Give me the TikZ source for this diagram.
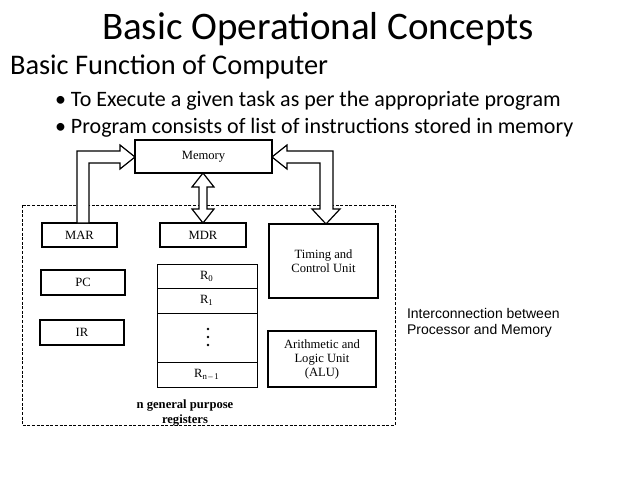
\documentclass[tikz,border=0pt]{standalone}
\usepackage{fontspec}
\setmainfont{Liberation Serif}
\newfontfamily\calfont{Carlito}
\newfontfamily\arialfont{Liberation Sans}
\begin{document}
\begin{tikzpicture}[x=0.5pt,y=-0.5pt,
  box/.style={draw,line width=0.9pt,font=\fontsize{6.3}{7}\selectfont},
  harrow/.style={draw,fill=white,line width=0.6pt,line join=miter}]
\useasboundingbox (0,0) rectangle (638,479);
\node[font=\calfont\fontsize{19.5}{22}\selectfont] (title) at (318,29) {Basic Operational Concepts};
\node[font=\calfont\fontsize{14.2}{16}\selectfont,anchor=west] (sub) at (3,67) {Basic Function of Computer};
\node[font=\calfont\fontsize{11}{13}\selectfont,anchor=west] (b1) at (48,101) {\textbullet\ To Execute a given task as per the appropriate program};
\node[font=\calfont\fontsize{11}{13}\selectfont,anchor=west] (b2) at (48,128) {\textbullet\ Program consists of list of instructions stored in memory};
\draw[line width=0.5pt,dash pattern=on 1.5pt off 0.8pt] (22,205) rectangle (395,425);
\node[draw,line width=0.6pt,minimum width=68.5pt,minimum height=16.5pt,font=\fontsize{6.3}{7}\selectfont] (mem) at (203.5,156.5) {Memory};
\node[box,minimum width=37.5pt,minimum height=12pt] (mar) at (79.5,235) {MAR};
\node[box,minimum width=43pt,minimum height=12pt] (mdr) at (203,235) {MDR};
\node[box,line width=1.2pt,minimum width=54.5pt,minimum height=37pt,align=center] (tcu) at (323.5,261) {Timing and\\Control Unit};
\node[box,minimum width=42pt,minimum height=12.5pt] (pc) at (83,282.5) {PC};
\node[box,minimum width=42pt,minimum height=12.5pt] (ir) at (82,332.5) {IR};
\node[box,minimum width=54pt,minimum height=28pt,align=center] (alu) at (322,359) {Arithmetic and\\Logic Unit\\(ALU)};
\draw[line width=0.5pt] (157,264) rectangle (257,387);
\draw[line width=0.5pt] (157,288)--(257,288) (157,313)--(257,313) (157,362)--(257,362);
\node[font=\fontsize{6.3}{7}\selectfont] (r0) at (207,276) {R\textsubscript{0}};
\node[font=\fontsize{6.3}{7}\selectfont] (r1) at (207,300.5) {R\textsubscript{1}};
\foreach \yy in {329,337,345} \fill (208,\yy) circle (0.7pt);
\node[font=\fontsize{6.3}{7}\selectfont] (rn) at (207,374.5) {R\textsubscript{n\,–\,1}};
\node[font=\bfseries\fontsize{6.3}{7.5}\selectfont,align=center] (gpr) at (185,413) {n general purpose\\registers};
\node[font=\arialfont\fontsize{7}{8}\selectfont,align=left,anchor=west] (ic) at (400,323) {Interconnection between\\Processor and Memory};
\draw[harrow] (77,223)--(77,151)--(120,151)--(120,145)--(135,157)--(120,169)--(120,163)--(89,163)--(89,223)--cycle;
\draw[harrow] (272,157)--(287,145)--(287,151)--(333,151)--(333,209)--(340,209)--(326,224)--(312,209)--(320,209)--(320,163)--(287,163)--(287,169)--cycle;
\draw[harrow] (203,173)--(214,187)--(207,187)--(207,209)--(214,209)--(203,223)--(192,209)--(199,209)--(199,187)--(192,187)--cycle;
\end{tikzpicture}
\end{document}
